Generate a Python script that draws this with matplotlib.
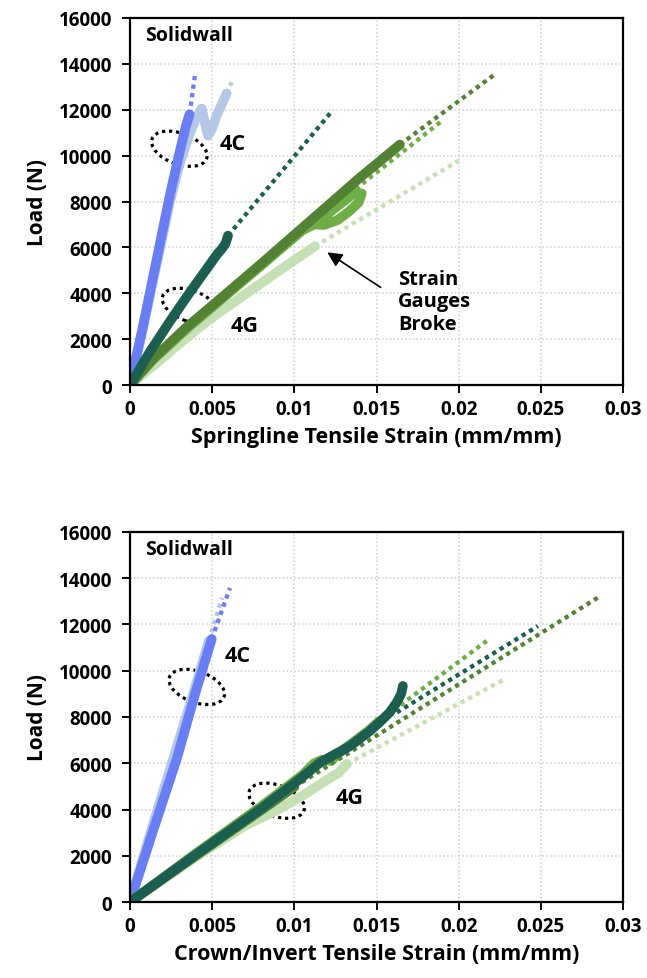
import matplotlib
matplotlib.use("Agg")
import matplotlib.pyplot as plt
from matplotlib.patches import Ellipse
from matplotlib.transforms import ScaledTranslation

plt.rcParams['font.family'] = ['Open Sans', 'DejaVu Sans']
plt.rcParams['font.weight'] = 'bold'

# colours of the series
c_blue = "#6A7EF3"
c_lblue = "#B4C7E7"
c_teal = "#1C5F50"
c_olive = "#548235"
c_green = "#70AD47"
c_lgreen = "#C5E0B4"

# ---------------- Springline (top) ----------------
sp_4c_blue_x = [0, 0.0008, 0.0016, 0.0024, 0.0030, 0.0034, 0.00362]
sp_4c_blue_y = [0, 2600, 5400, 8200, 10100, 11300, 11800]
sp_4c_blue_fx = [0.00362, 0.00395]
sp_4c_blue_fy = [11800, 13500]

sp_4c_lblue_x = [0, 0.0008, 0.0016, 0.0024, 0.0030, 0.0036, 0.0040, 0.00436, 0.0046, 0.00475,
                 0.0050, 0.0053, 0.00566, 0.00588]
sp_4c_lblue_y = [0, 2500, 5200, 7900, 9600, 10900, 11600, 12050, 11300, 10870,
                 11200, 11800, 12360, 12710]
sp_4c_lblue_fx = [0.00588, 0.00618]
sp_4c_lblue_fy = [12710, 13190]

sp_4g_teal_x = [0, 0.0012, 0.0024, 0.0036, 0.0046, 0.0053, 0.0056, 0.0058, 0.00596]
sp_4g_teal_y = [0, 1440, 2750, 4000, 5000, 5700, 5950, 6150, 6510]
sp_4g_teal_fx = [0.00596, 0.01217]
sp_4g_teal_fy = [6510, 11840]

sp_4g_olive_x = [0, 0.0014, 0.00345, 0.00547, 0.0080, 0.0100, 0.0120, 0.0140, 0.01642]
sp_4g_olive_y = [0, 1150, 2530, 3750, 5300, 6550, 7800, 9050, 10480]
sp_4g_olive_fx = [0.01642, 0.0223]
sp_4g_olive_fy = [10480, 13600]

sp_4g_green_x = [0, 0.0014, 0.0035, 0.0055, 0.0080, 0.0105, 0.0112, 0.0118, 0.0126, 0.0133,
                 0.0139, 0.0141, 0.0137, 0.0129, 0.0121, 0.0114]
sp_4g_green_y = [0, 1100, 2480, 3700, 5220, 6750, 7000, 6980, 7180, 7550,
                 7950, 8350, 8400, 7950, 7500, 7200]
sp_4g_green_fx = [0.0125, 0.0190]
sp_4g_green_fy = [7850, 11530]

sp_4g_lgreen_x = [0, 0.0014, 0.0030, 0.00487, 0.0070, 0.0090, 0.01125]
sp_4g_lgreen_y = [0, 830, 1800, 2880, 3950, 4950, 6050]
sp_4g_lgreen_fx = [0.01125, 0.0200]
sp_4g_lgreen_fy = [6050, 9780]

# ---------------- Crown/Invert (bottom) ----------------
ci_4c_blue_x = [0, 0.0015, 0.00284, 0.0040, 0.00497]
ci_4c_blue_y = [0, 3300, 6180, 9100, 11370]
ci_4c_blue_fx = [0.00497, 0.00608]
ci_4c_blue_fy = [11370, 13580]

ci_4c_lblue_x = [0, 0.0012, 0.00262, 0.0038, 0.0048]
ci_4c_lblue_y = [0, 2900, 6180, 8900, 11300]
ci_4c_lblue_fx = [0.0048, 0.0056]
ci_4c_lblue_fy = [11300, 13150]

ci_4g_teal_x = [0, 0.0040, 0.0080, 0.0103, 0.0116, 0.0134, 0.0146, 0.0152, 0.0158, 0.0162, 0.0165, 0.0166]
ci_4g_teal_y = [0, 2050, 4050, 5300, 6050, 6750, 7400, 7780, 8200, 8600, 9000, 9340]
ci_4g_teal_fx = [0.01624, 0.02482]
ci_4g_teal_fy = [8200, 11930]

ci_4g_olive_x = [0, 0.0040, 0.0080, 0.0100]
ci_4g_olive_y = [0, 2000, 3980, 4980]
ci_4g_olive_fx = [0.0100, 0.02853]
ci_4g_olive_fy = [4980, 13190]

ci_4g_green_x = [0, 0.0040, 0.0080, 0.0105, 0.0112, 0.0117, 0.0122, 0.0130, 0.0145, 0.0152]
ci_4g_green_y = [0, 2100, 4150, 5500, 6000, 6150, 6100, 6600, 7400, 7850]
ci_4g_green_fx = [0.0152, 0.0217]
ci_4g_green_fy = [7850, 11290]

ci_4g_lgreen_x = [0, 0.0040, 0.0070, 0.0090, 0.0105, 0.0118, 0.0127, 0.0132]
ci_4g_lgreen_y = [0, 1950, 3300, 4000, 4600, 5200, 5600, 5970]
ci_4g_lgreen_fx = [0.0132, 0.0228]
ci_4g_lgreen_fy = [5970, 9640]

x_ticks = [0, 0.005, 0.01, 0.015, 0.02, 0.025, 0.03]
x_tick_labels = ["0", "0.005", "0.01", "0.015", "0.02", "0.025", "0.03"]
y_ticks = [0, 2000, 4000, 6000, 8000, 10000, 12000, 14000, 16000]

LW = 7.0
DLW = 3.1


def series(ax, x, y, fx, fy, color):
    ax.plot(x, y, color=color, lw=LW, solid_capstyle='round', solid_joinstyle='round')
    ax.plot(fx, fy, color=color, lw=DLW, linestyle=(0, (1, 1)), dash_capstyle='butt')


def ellipse(fig, ax, x, y):
    tr = fig.dpi_scale_trans + ScaledTranslation(x, y, ax.transData)
    e = Ellipse((0, 0), 0.58, 0.31, angle=-20, transform=tr, fill=False,
                edgecolor='black', lw=2.3, linestyle=(0, (1, 1.2)))
    ax.add_patch(e)


def style(ax, xlabel):
    ax.set_xlim(0, 0.03)
    ax.set_ylim(0, 16000)
    ax.set_xticks(x_ticks)
    ax.set_xticklabels(x_tick_labels)
    ax.set_yticks(y_ticks)
    ax.grid(True, color='#D0D0D0', linestyle=(0, (1, 1.5)), lw=1.1)
    ax.set_axisbelow(True)
    for s in ax.spines.values():
        s.set_color('black')
        s.set_linewidth(1.6)
    ax.tick_params(direction='out', length=6, width=1.4, labelsize=13.5, pad=4)
    ax.tick_params(axis='y', pad=7)
    for lab in ax.get_xticklabels() + ax.get_yticklabels():
        lab.set_fontweight('bold')
    ax.set_xlabel(xlabel, fontsize=15.5, fontweight='bold', labelpad=5)
    ax.set_ylabel("Load (N)", fontsize=15, fontweight='bold', labelpad=8)
    ax.text(0.03, 0.955, "Solidwall", transform=ax.transAxes, fontsize=14,
            fontweight='bold', va='center', ha='left')


fig = plt.figure(figsize=(6.47, 9.79), dpi=100)
ax1 = fig.add_axes([0.201, 0.6057, 0.762, 0.3749])
ax2 = fig.add_axes([0.201, 0.0776, 0.762, 0.378])

# top chart
series(ax1, sp_4c_lblue_x, sp_4c_lblue_y, sp_4c_lblue_fx, sp_4c_lblue_fy, c_lblue)
series(ax1, sp_4c_blue_x, sp_4c_blue_y, sp_4c_blue_fx, sp_4c_blue_fy, c_blue)
series(ax1, sp_4g_lgreen_x, sp_4g_lgreen_y, sp_4g_lgreen_fx, sp_4g_lgreen_fy, c_lgreen)
series(ax1, sp_4g_green_x, sp_4g_green_y, sp_4g_green_fx, sp_4g_green_fy, c_green)
series(ax1, sp_4g_olive_x, sp_4g_olive_y, sp_4g_olive_fx, sp_4g_olive_fy, c_olive)
series(ax1, sp_4g_teal_x, sp_4g_teal_y, sp_4g_teal_fx, sp_4g_teal_fy, c_teal)
style(ax1, "Springline Tensile Strain (mm/mm)")
ellipse(fig, ax1, 0.00300, 10300)
ellipse(fig, ax1, 0.00365, 3450)
ax1.text(0.00625, 10520, "4C", fontsize=15.5, fontweight='bold', va='center', ha='center')
ax1.text(0.00695, 2600, "4G", fontsize=15.5, fontweight='bold', va='center', ha='center')
ax1.annotate("", xy=(0.01186, 5850), xytext=(0.01539, 4190),
             arrowprops=dict(arrowstyle='-|>', color='black', lw=1.2, mutation_scale=22))
ax1.text(0.0163, 5050, "Strain\nGauges\nBroke", fontsize=14.5, fontweight='bold',
         va='top', ha='left', linespacing=1.15)

# bottom chart
series(ax2, ci_4c_lblue_x, ci_4c_lblue_y, ci_4c_lblue_fx, ci_4c_lblue_fy, c_lblue)
series(ax2, ci_4c_blue_x, ci_4c_blue_y, ci_4c_blue_fx, ci_4c_blue_fy, c_blue)
series(ax2, ci_4g_lgreen_x, ci_4g_lgreen_y, ci_4g_lgreen_fx, ci_4g_lgreen_fy, c_lgreen)
series(ax2, ci_4g_green_x, ci_4g_green_y, ci_4g_green_fx, ci_4g_green_fy, c_green)
series(ax2, ci_4g_olive_x, ci_4g_olive_y, ci_4g_olive_fx, ci_4g_olive_fy, c_olive)
series(ax2, ci_4g_teal_x, ci_4g_teal_y, ci_4g_teal_fx, ci_4g_teal_fy, c_teal)
style(ax2, "Crown/Invert Tensile Strain (mm/mm)")
ellipse(fig, ax2, 0.00406, 9300)
ellipse(fig, ax2, 0.00892, 4380)
ax2.text(0.00657, 10640, "4C", fontsize=15.5, fontweight='bold', va='center', ha='center')
ax2.text(0.01338, 4540, "4G", fontsize=15.5, fontweight='bold', va='center', ha='center')

fig.savefig("out.png", dpi=100)
